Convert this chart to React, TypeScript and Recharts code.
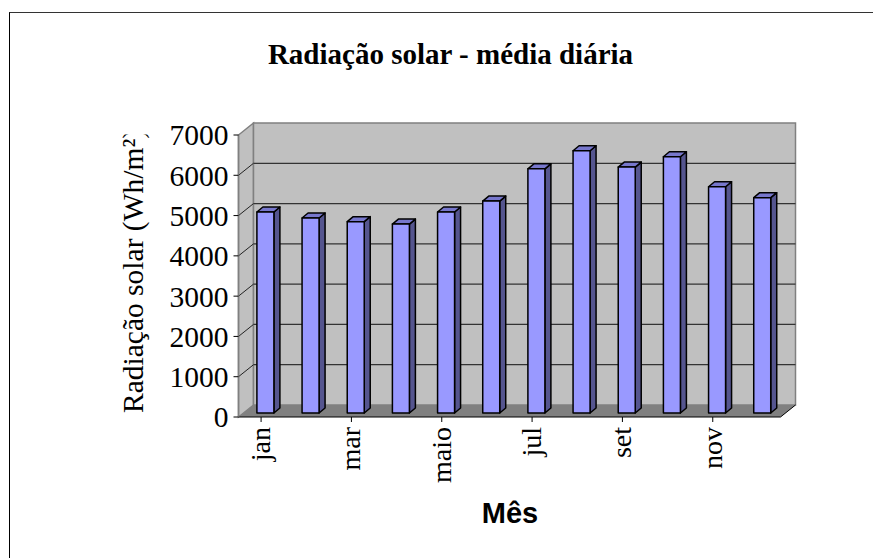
import { BarChart, Bar, XAxis, YAxis, ReferenceArea, ReferenceLine } from 'recharts'

const months = ['jan', 'fev', 'mar', 'abr', 'maio', 'jun', 'jul', 'ago', 'set', 'out', 'nov', 'dez']
const radiation = [4990, 4840, 4750, 4690, 4990, 5260, 6060, 6510, 6105, 6360, 5615, 5345]
const yTicks = [0, 1000, 2000, 3000, 4000, 5000, 6000, 7000]

const data = months.map((month, i) => ({ month, radiation: radiation[i] }))

const SERIF = '"Liberation Serif", serif'
const SANS = '"Liberation Sans", sans-serif'

// fake 3D depth of the Excel chart
const DX = 15
const DY = 12

function Walls({ x, y, width, height }: any) {
  const b = y + height
  const r = x + width
  return (
    <g>
      <polygon
        points={`${x},${b} ${x + DX},${b - DY} ${x + DX},${y - DY} ${x},${y}`}
        fill="#c0c0c0"
        stroke="#808080"
        strokeWidth={1.5}
      />
      <rect x={x + DX} y={y - DY} width={width} height={height} fill="#c0c0c0" stroke="#808080" strokeWidth={1.5} />
      <polygon points={`${x},${b} ${r},${b} ${r + DX},${b - DY} ${x + DX},${b - DY}`} fill="#808080" />
      <line x1={r} y1={b} x2={r + DX} y2={b - DY} stroke="#000" />
    </g>
  )
}

function GridLine({ x1, y1, x2 }: any) {
  return (
    <g>
      <line x1={x1} y1={y1} x2={x1 + DX} y2={y1 - DY} stroke="#222" strokeWidth={1} />
      <line x1={x1 + DX} y1={y1 - DY} x2={x2 + DX} y2={y1 - DY} stroke="#333" strokeWidth={1.2} />
    </g>
  )
}

function Bar3D({ x, y, width, height }: any) {
  const fx = x + 4.4
  const fy = y - 4
  const d = 6
  const t = 5
  return (
    <g stroke="#000" strokeWidth={1.5} strokeLinejoin="round">
      <polygon
        points={`${fx + width},${fy} ${fx + width + d},${fy - t} ${fx + width + d},${fy + height - t} ${fx + width},${fy + height}`}
        fill="#55558f"
      />
      <polygon
        points={`${fx},${fy} ${fx + d},${fy - t} ${fx + width + d},${fy - t} ${fx + width},${fy}`}
        fill="#7777cc"
      />
      <rect x={fx} y={fy} width={width} height={height} fill="#9999ff" />
    </g>
  )
}

function MonthTick({ x, y, payload }: any) {
  return (
    <text
      x={0}
      y={0}
      transform={`translate(${x + 9} ${y + 3}) rotate(-90)`}
      textAnchor="end"
      fontFamily={SERIF}
      fontSize={28}
      fill="#000"
    >
      {payload.value}
    </text>
  )
}

export default function App() {
  return (
    <div style={{ position: 'absolute', left: 0, top: 0, width: 873, height: 558, background: '#fff', overflow: 'hidden' }}>
      <div style={{ position: 'absolute', left: 9, top: 12, right: 0, bottom: 0, borderLeft: '1px solid #000', borderTop: '1.5px solid #333' }} />
      <BarChart
        width={873}
        height={558}
        data={data}
        margin={{ top: 135, right: 92.5, bottom: 0, left: 0 }}
        barSize={17}
        style={{ position: 'absolute', left: 0, top: 0 }}
      >
        <defs>
          {/* the source picture cuts the axis title off at the top of the plot */}
          <clipPath id="yTitleClip">
            <rect x={100} y={134.5} width={60} height={300} />
          </clipPath>
        </defs>
        <text x={450.5} y={64} textAnchor="middle" fontFamily={SERIF} fontWeight="bold" fontSize={29} fill="#000">
          Radiação solar - média diária
        </text>
        <XAxis
          dataKey="month"
          height={141}
          interval={1}
          tick={<MonthTick />}
          tickSize={5}
          axisLine={{ stroke: '#000', strokeWidth: 1.2 }}
          tickLine={{ stroke: '#000' }}
        />
        <YAxis
          width={238.5}
          domain={[0, 7000]}
          ticks={yTicks}
          interval={0}
          tickSize={5}
          tickMargin={5}
          tick={{ fontFamily: SERIF, fontSize: 29.5, fill: '#000' }}
          axisLine={{ stroke: '#808080', strokeWidth: 1.5 }}
          tickLine={{ stroke: '#000' }}
        />
        <ReferenceArea y1={0} y2={7000} shape={<Walls />} zIndex={50} />
        {yTicks.slice(1, -1).map((t) => (
          <ReferenceLine key={t} y={t} shape={<GridLine />} zIndex={60} />
        ))}
        <Bar dataKey="radiation" shape={<Bar3D />} isAnimationActive={false} />
        <g clipPath="url(#yTitleClip)">
          <text
            transform="translate(143 413) rotate(-90)"
            textAnchor="start"
            fontFamily={SERIF}
            fontSize={29.5}
            fill="#000"
          >
            Radiação solar (Wh/m²)
          </text>
        </g>
        <text x={510} y={523} textAnchor="middle" fontFamily={SANS} fontWeight="bold" fontSize={29} fill="#000">
          Mês
        </text>
      </BarChart>
    </div>
  )
}
